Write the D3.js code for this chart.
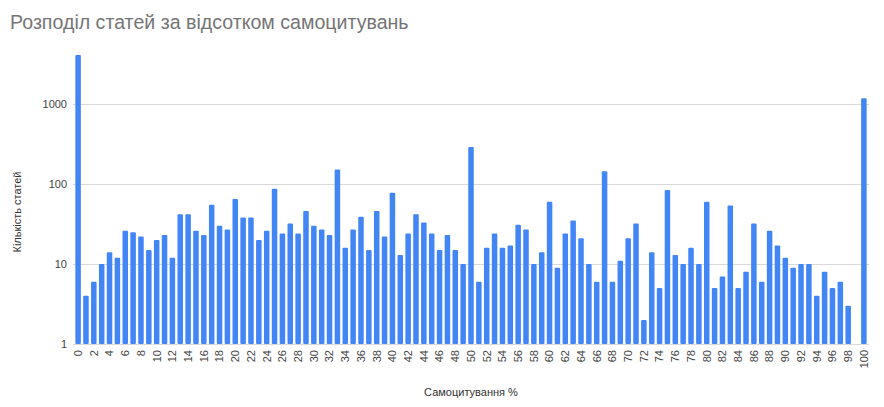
<!DOCTYPE html>
<html>
<head>
<meta charset="utf-8">
<script src="https://cdnjs.cloudflare.com/ajax/libs/d3/7.8.5/d3.min.js"></script>
<style>
  body { margin: 0; background: #fff; }
  svg { font-family: "Liberation Sans", Arial, sans-serif; }
</style>
</head>
<body>
<div id="chart-area"></div>
<script>
// self-citation percent, 0..100
let percents = d3.range(0, 101)
// number of articles per percent (null = no articles)
let counts = [
  4100, 4, 6, 10, 14, 12, 26, 25, 22, 15,
  20, 23, 12, 42, 42, 26, 23, 55, 30, 27,
  65, 38, 38, 20, 26, 87, 24, 32, 24, 46,
  30, 27, 23, 152, 16, 27, 39, 15, 46, 22,
  78, 13, 24, 42, 33, 24, 15, 23, 15, 10,
  290, 6, 16, 24, 16, 17, 31, 27, 10, 14,
  60, 9, 24, 35, 21, 10, 6, 144, 6, 11,
  21, 32, 2, 14, 5, 84, 13, 10, 16, 10,
  60, 5, 7, 54, 5, 8, 32, 6, 26, 17,
  12, 9, 10, 10, 4, 8, 5, 6, 3, null,
  1180
]
let yTicks = [1, 10, 100, 1000]
let xTicks = percents.filter(p => p % 2 == 0)

let title = 'Розподіл статей за відсотком самоцитувань'
let xTitle = 'Самоцитування %'
let yTitle = 'Кількість статей'

let width = 884
let height = 407
let plot = { left: 73, right: 869, top: 24, bottom: 344 }

let svg = d3.select('#chart-area').append('svg')
  .attr('width', width)
  .attr('height', height)

svg.append('text')
  .attr('x', 10)
  .attr('y', 29)
  .attr('font-size', 19.6)
  .attr('fill', '#757575')
  .text(title)

let x = d3.scaleBand()
  .domain(percents)
  .range([plot.left, plot.right])
  .padding(0.3)

let y = d3.scaleLog()
  .domain([1, 10000])
  .range([plot.bottom, plot.top])

// gridlines + y labels
let yAxisGroup = svg.append('g')
  .attr('transform', 'translate(' + plot.left + ', 0)')
  .call(d3.axisLeft(y).tickValues(yTicks).tickFormat(d3.format('d'))
    .tickSize(-(plot.right - plot.left)).tickPadding(6))
yAxisGroup.select('.domain').remove()
yAxisGroup.selectAll('line').attr('stroke', '#d9d9d9')
yAxisGroup.selectAll('text').attr('font-size', 11).attr('fill', '#444')
  .attr('font-family', '"Liberation Sans", Arial, sans-serif')

// bars
svg.append('g').selectAll('rect')
  .data(percents.filter(p => counts[p] != null))
  .enter()
  .append('rect')
    .attr('x', p => x(p))
    .attr('y', p => y(counts[p]))
    .attr('width', x.bandwidth())
    .attr('height', p => y(1) - y(counts[p]))
    .attr('rx', 1)
    .attr('fill', '#4285f4')

// x labels
let xAxisGroup = svg.append('g')
  .attr('transform', 'translate(0, ' + plot.bottom + ')')
  .call(d3.axisBottom(x).tickValues(xTicks).tickSize(0).tickPadding(0))
xAxisGroup.select('.domain').remove()
xAxisGroup.selectAll('text')
  .attr('font-size', 11)
  .attr('fill', '#444')
  .attr('font-family', '"Liberation Sans", Arial, sans-serif')
  .attr('transform', 'rotate(-90)')
  .attr('text-anchor', 'end')
  .attr('dy', '0.35em')
  .attr('x', -6)
  .attr('y', 0)

svg.append('text')
  .attr('x', (plot.left + plot.right) / 2)
  .attr('y', 396)
  .attr('text-anchor', 'middle')
  .attr('font-size', 11)
  .attr('fill', '#333')
  .text(xTitle)

svg.append('text')
  .attr('transform', 'translate(21, 212) rotate(-90)')
  .attr('text-anchor', 'middle')
  .attr('font-size', 11)
  .attr('fill', '#333')
  .text(yTitle)
</script>
</body>
</html>
